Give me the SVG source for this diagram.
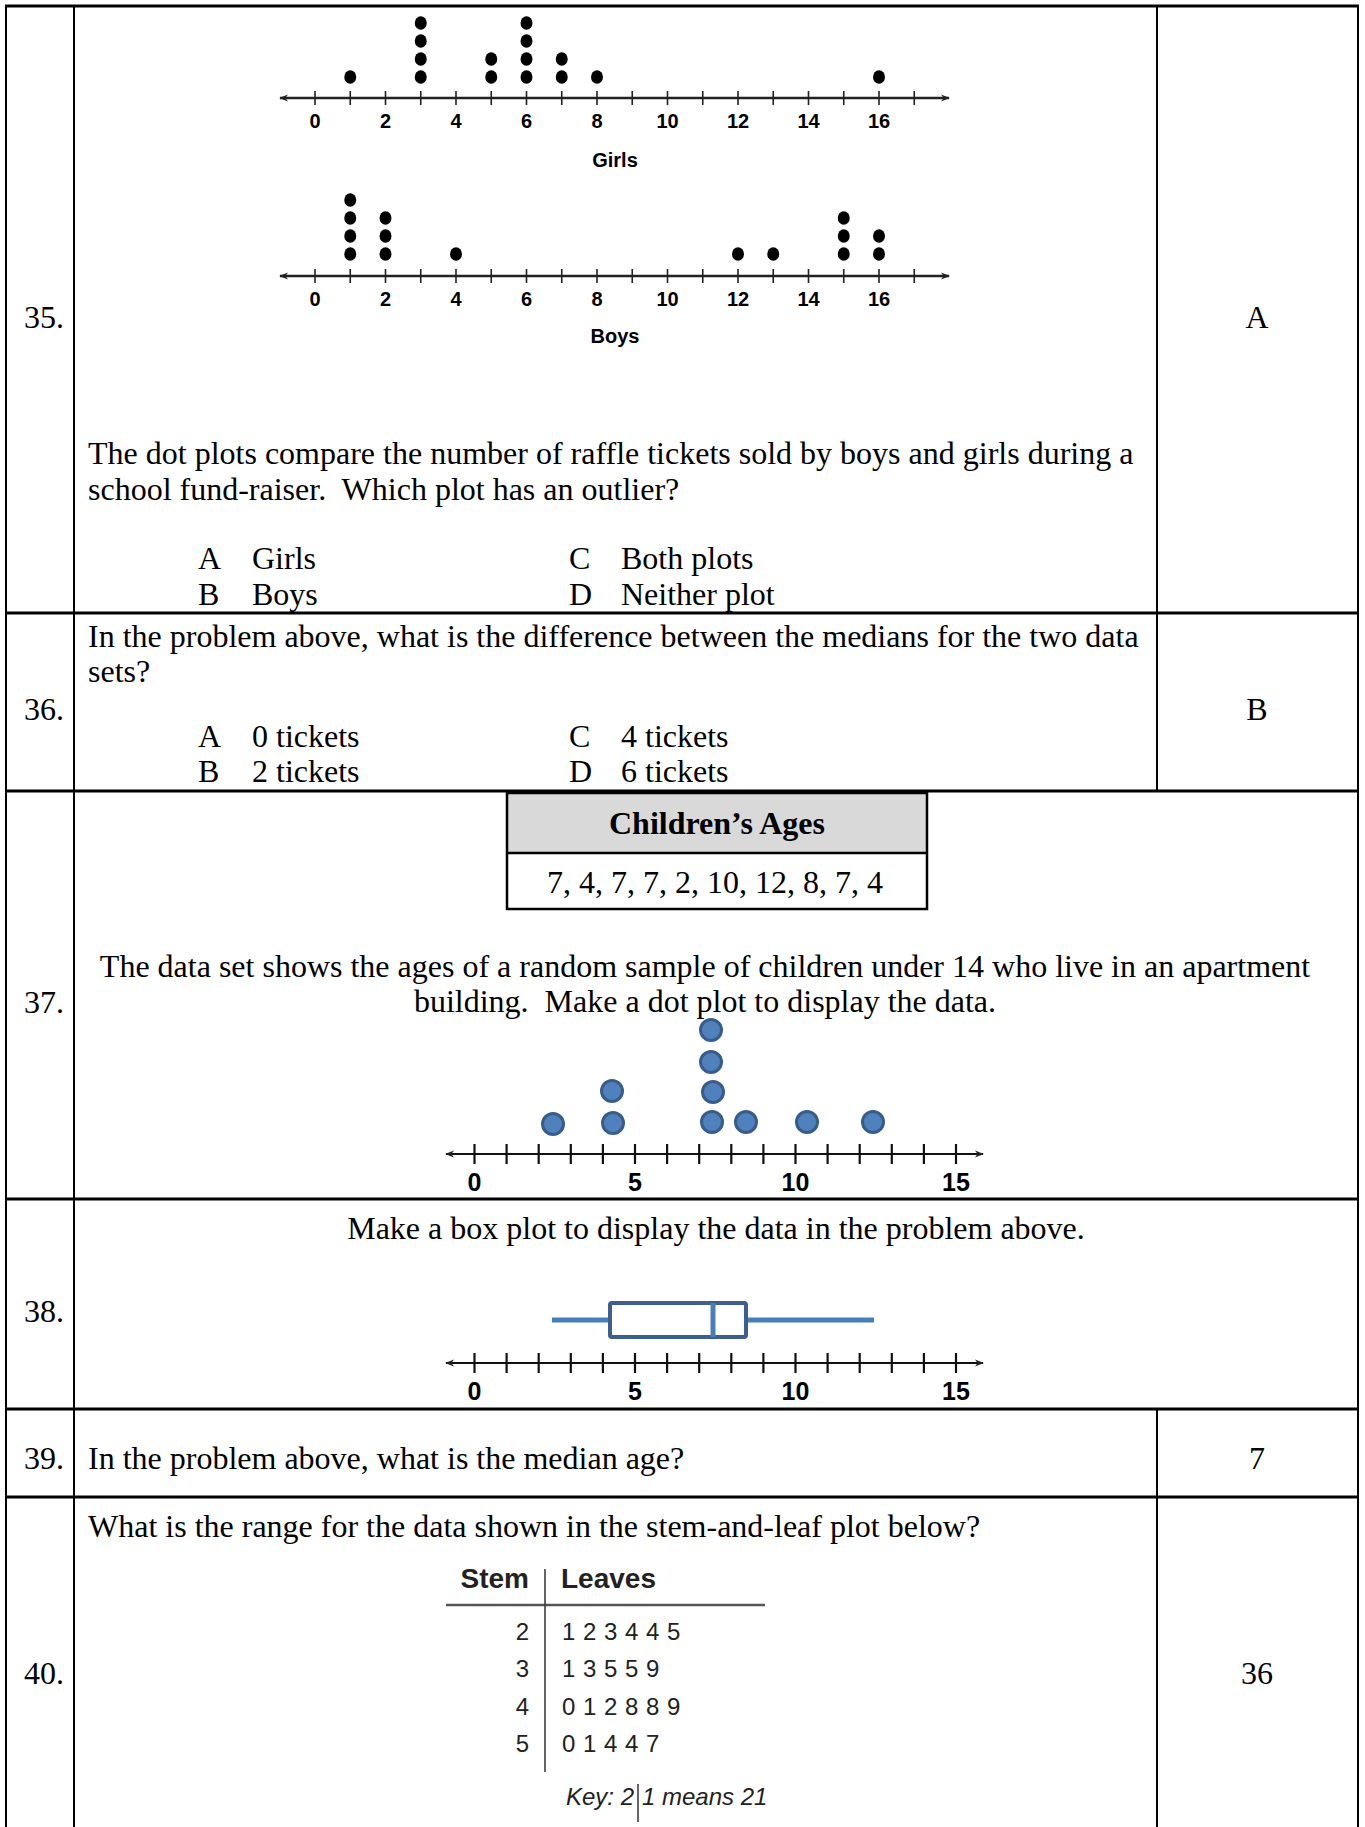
<svg xmlns="http://www.w3.org/2000/svg" xmlns:xlink="http://www.w3.org/1999/xlink" width="1365" height="1827" viewBox="0 0 1365 1827">
<style>
.t{font-family:"Liberation Serif","Times New Roman",serif;font-size:32px;fill:#000;white-space:pre}
.tb{font-family:"Liberation Serif","Times New Roman",serif;font-size:32px;font-weight:bold;fill:#000}
.c{text-anchor:middle}
.e{text-anchor:end}
.ax{font-family:"Liberation Sans",Arial,sans-serif;font-weight:bold;font-size:20px;fill:#000;text-anchor:middle}
.ax2{font-family:"Liberation Sans",Arial,sans-serif;font-weight:bold;font-size:25px;fill:#000;text-anchor:middle}
.sl{font-family:"Liberation Sans",Arial,sans-serif;font-size:24px;fill:#222}
.slh{font-family:"Liberation Sans",Arial,sans-serif;font-size:28px;font-weight:bold;fill:#222}
.key{font-family:"Liberation Sans",Arial,sans-serif;font-size:24px;font-style:italic;fill:#222}
.hl{stroke:#000;stroke-width:3;fill:none}
.vl{stroke:#000;stroke-width:2;fill:none}
.gax{stroke:#222;stroke-width:2.5;fill:none}
.gtk{stroke:#222;stroke-width:1.6;fill:none}
.bax{stroke:#111;stroke-width:2.2;fill:none}
.bd{fill:#4f81bd;stroke:#385d8a;stroke-width:3}
.gd{fill:#000}
</style>
<defs>
<marker id="arr" viewBox="0 0 10 10" refX="9" refY="5" markerWidth="9" markerHeight="9" markerUnits="userSpaceOnUse" orient="auto-start-reverse">
<path d="M0,1 L10,5 L0,9 L3,5 z" fill="#222"/>
</marker>
<g id="gaxis">
<line class="gax" x1="280" y1="0" x2="949" y2="0" marker-start="url(#arr)" marker-end="url(#arr)"/>
<path class="gtk" d="M315 -7V7M350.25 -7V7M385.5 -7V7M420.75 -7V7M456 -7V7M491.25 -7V7M526.5 -7V7M561.75 -7V7M597 -7V7M632.25 -7V7M667.5 -7V7M702.75 -7V7M738 -7V7M773.25 -7V7M808.5 -7V7M843.75 -7V7M879 -7V7M914.25 -7V7"/>
<g class="ax">
<text x="315" y="30">0</text><text x="385.5" y="30">2</text><text x="456" y="30">4</text><text x="526.5" y="30">6</text><text x="597" y="30">8</text><text x="667.5" y="30">10</text><text x="738" y="30">12</text><text x="808.5" y="30">14</text><text x="879" y="30">16</text>
</g>
</g>
<g id="baxis">
<line class="bax" x1="446" y1="0" x2="983" y2="0" marker-start="url(#arr)" marker-end="url(#arr)"/>
<path class="bax" d="M474.5 -10V10M506.6 -10V10M538.7 -10V10M570.8 -10V10M602.9 -10V10M635 -10V10M667.1 -10V10M699.2 -10V10M731.3 -10V10M763.4 -10V10M795.5 -10V10M827.6 -10V10M859.7 -10V10M891.8 -10V10M923.9 -10V10M956 -10V10"/>
<g class="ax2">
<text x="474.5" y="37">0</text><text x="635" y="37">5</text><text x="795.5" y="37">10</text><text x="956" y="37">15</text>
</g>
</g>
</defs>
<rect x="0" y="0" width="1365" height="1827" fill="#fff"/>

<g id="grid">
<line class="hl" x1="5" y1="6" x2="1359" y2="6"/>
<line class="hl" x1="5" y1="613" x2="1359" y2="613"/>
<line class="hl" x1="5" y1="791" x2="1359" y2="791"/>
<line class="hl" x1="5" y1="1199" x2="1359" y2="1199"/>
<line class="hl" x1="5" y1="1409" x2="1359" y2="1409"/>
<line class="hl" x1="5" y1="1497" x2="1359" y2="1497"/>
<line class="vl" x1="6" y1="5" x2="6" y2="1827"/>
<line class="vl" x1="74" y1="5" x2="74" y2="1827"/>
<line class="vl" x1="1358" y1="5" x2="1358" y2="1827"/>
<line class="vl" x1="1157" y1="5" x2="1157" y2="791"/>
<line class="vl" x1="1157" y1="1409" x2="1157" y2="1827"/>
</g>

<g id="q35">
<text class="t" x="24" y="328">35.</text>
<g id="girls-plot">
<use xlink:href="#gaxis" href="#gaxis" transform="translate(0,98)"/>
<g class="gd">
<ellipse cx="350.25" cy="77" rx="6" ry="6.7"/>
<ellipse cx="420.75" cy="77" rx="6" ry="6.7"/><ellipse cx="420.75" cy="59" rx="6" ry="6.7"/><ellipse cx="420.75" cy="41" rx="6" ry="6.7"/><ellipse cx="420.75" cy="23" rx="6" ry="6.7"/>
<ellipse cx="491.25" cy="77" rx="6" ry="6.7"/><ellipse cx="491.25" cy="59" rx="6" ry="6.7"/>
<ellipse cx="526.5" cy="77" rx="6" ry="6.7"/><ellipse cx="526.5" cy="59" rx="6" ry="6.7"/><ellipse cx="526.5" cy="41" rx="6" ry="6.7"/><ellipse cx="526.5" cy="23" rx="6" ry="6.7"/>
<ellipse cx="561.75" cy="77" rx="6" ry="6.7"/><ellipse cx="561.75" cy="59" rx="6" ry="6.7"/>
<ellipse cx="597" cy="77" rx="6" ry="6.7"/>
<ellipse cx="879" cy="77" rx="6" ry="6.7"/>
</g>
<text class="ax" x="615" y="167">Girls</text>
</g>
<g id="boys-plot">
<use xlink:href="#gaxis" href="#gaxis" transform="translate(0,276)"/>
<g class="gd">
<ellipse cx="350.25" cy="254" rx="6" ry="6.7"/><ellipse cx="350.25" cy="236" rx="6" ry="6.7"/><ellipse cx="350.25" cy="218" rx="6" ry="6.7"/><ellipse cx="350.25" cy="200" rx="6" ry="6.7"/>
<ellipse cx="385.5" cy="254" rx="6" ry="6.7"/><ellipse cx="385.5" cy="236" rx="6" ry="6.7"/><ellipse cx="385.5" cy="218" rx="6" ry="6.7"/>
<ellipse cx="456" cy="254" rx="6" ry="6.7"/>
<ellipse cx="738" cy="254" rx="6" ry="6.7"/>
<ellipse cx="773.25" cy="254" rx="6" ry="6.7"/>
<ellipse cx="843.75" cy="254" rx="6" ry="6.7"/><ellipse cx="843.75" cy="236" rx="6" ry="6.7"/><ellipse cx="843.75" cy="218" rx="6" ry="6.7"/>
<ellipse cx="879" cy="254" rx="6" ry="6.7"/><ellipse cx="879" cy="236" rx="6" ry="6.7"/>
</g>
<text class="ax" x="615" y="343">Boys</text>
</g>
<text class="t" x="88" y="464">The dot plots compare the number of raffle tickets sold by boys and girls during a</text>
<text class="t" x="88" y="500">school fund-raiser.  Which plot has an outlier?</text>
<text class="t" x="198" y="569">A</text><text class="t" x="252" y="569">Girls</text>
<text class="t" x="569" y="569">C</text><text class="t" x="621" y="569">Both plots</text>
<text class="t" x="198" y="605">B</text><text class="t" x="252" y="605">Boys</text>
<text class="t" x="569" y="605">D</text><text class="t" x="621" y="605">Neither plot</text>
<text class="t c" x="1257" y="328">A</text>
</g>

<g id="q36">
<text class="t" x="24" y="720">36.</text>
<text class="t" x="88" y="647">In the problem above, what is the difference between the medians for the two data</text>
<text class="t" x="88" y="682">sets?</text>
<text class="t" x="198" y="747">A</text><text class="t" x="252" y="747">0 tickets</text>
<text class="t" x="569" y="747">C</text><text class="t" x="621" y="747">4 tickets</text>
<text class="t" x="198" y="782">B</text><text class="t" x="252" y="782">2 tickets</text>
<text class="t" x="569" y="782">D</text><text class="t" x="621" y="782">6 tickets</text>
<text class="t c" x="1257" y="720">B</text>
</g>

<g id="q37">
<text class="t" x="24" y="1013">37.</text>
<g id="ages-table">
<rect x="507" y="793" width="420" height="60" fill="#d9d9d9"/>
<rect x="507" y="793" width="420" height="116" fill="none" stroke="#000" stroke-width="2.5"/>
<line x1="507" y1="853" x2="927" y2="853" stroke="#000" stroke-width="2.5"/>
<text class="tb c" x="717" y="834">Children’s Ages</text>
<text class="t c" x="715" y="893">7, 4, 7, 7, 2, 10, 12, 8, 7, 4</text>
</g>
<text class="t c" x="705" y="977">The data set shows the ages of a random sample of children under 14 who live in an apartment</text>
<text class="t c" x="705" y="1012">building.  Make a dot plot to display the data.</text>
<g id="ages-dotplot">
<use xlink:href="#baxis" href="#baxis" transform="translate(0,1154)"/>
<circle class="bd" cx="553" cy="1124" r="10.5"/>
<circle class="bd" cx="613" cy="1123" r="10.5"/>
<circle class="bd" cx="612" cy="1091" r="10.5"/>
<circle class="bd" cx="712" cy="1122" r="10.5"/>
<circle class="bd" cx="713" cy="1092" r="10.5"/>
<circle class="bd" cx="711" cy="1062" r="10.5"/>
<circle class="bd" cx="711" cy="1030" r="10.5"/>
<circle class="bd" cx="746" cy="1122" r="10.5"/>
<circle class="bd" cx="807" cy="1122" r="10.5"/>
<circle class="bd" cx="873" cy="1122" r="10.5"/>
</g>
</g>

<g id="q38">
<text class="t" x="24" y="1322">38.</text>
<text class="t c" x="716" y="1239">Make a box plot to display the data in the problem above.</text>
<g id="ages-boxplot">
<line x1="552" y1="1320" x2="874" y2="1320" stroke="#4a7ebb" stroke-width="5"/>
<rect x="610" y="1303" width="136" height="34" rx="2" fill="#fff" stroke="#3b5f8e" stroke-width="4"/>
<line x1="713" y1="1303" x2="713" y2="1337" stroke="#4a7ebb" stroke-width="5"/>
<use xlink:href="#baxis" href="#baxis" transform="translate(0,1363)"/>
</g>
</g>

<g id="q39">
<text class="t" x="24" y="1469">39.</text>
<text class="t" x="88" y="1469">In the problem above, what is the median age?</text>
<text class="t c" x="1257" y="1469">7</text>
</g>

<g id="q40">
<text class="t" x="24" y="1684">40.</text>
<text class="t" x="88" y="1537">What is the range for the data shown in the stem-and-leaf plot below?</text>
<text class="t c" x="1257" y="1684">36</text>
<g id="stem-leaf">
<text class="slh e" x="529" y="1588">Stem</text>
<text class="slh" x="561" y="1588">Leaves</text>
<line x1="446" y1="1605" x2="765" y2="1605" stroke="#555" stroke-width="2.5"/>
<line x1="545" y1="1569" x2="545" y2="1772" stroke="#333" stroke-width="1.5"/>
<g class="sl">
<text class="e" x="529" y="1640">2</text><text x="562" y="1640" style="word-spacing:1px">1 2 3 4 4 5</text>
<text class="e" x="529" y="1677">3</text><text x="562" y="1677" style="word-spacing:1px">1 3 5 5 9</text>
<text class="e" x="529" y="1715">4</text><text x="562" y="1715" style="word-spacing:1px">0 1 2 8 8 9</text>
<text class="e" x="529" y="1752">5</text><text x="562" y="1752" style="word-spacing:1px">0 1 4 4 7</text>
</g>
<text class="key e" x="634" y="1805">Key: 2</text>
<line x1="638" y1="1784" x2="638" y2="1822" stroke="#333" stroke-width="1.5"/>
<text class="key" x="642" y="1805">1 means 21</text>
</g>
</g>
</svg>
